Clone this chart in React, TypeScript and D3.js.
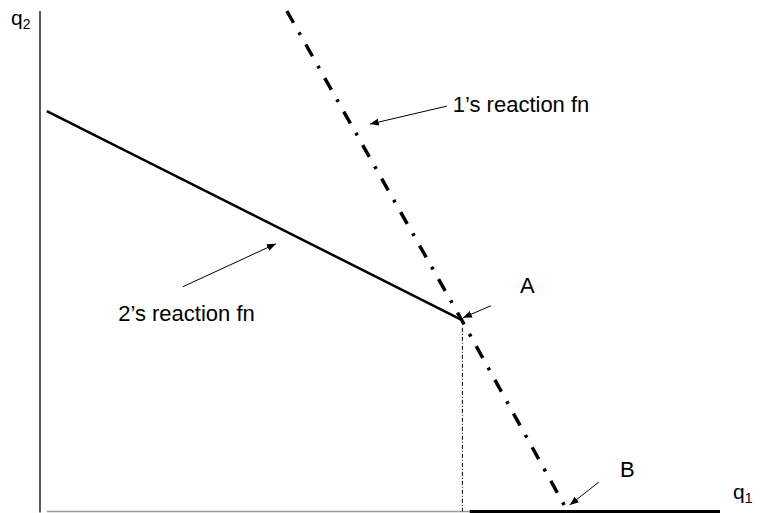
import React from "react";
import * as d3 from "d3";

// Data (in q1/q2 units)
const reaction2Q1 = [1, 62];
const reaction2Q2 = [80, 38.3];
const reaction1Q1 = [36.3, 62, 77.2];
const reaction1Q2 = [100, 38.3, 1];
const bottomSegQ1 = [63.2, 100];
const bottomSegQ2 = [0, 0];
const axisQ1 = [1, 100];
const equilibriumQ1 = 62;
const equilibriumQ2 = 38.3;

const annotationLabels = ["1\u2019s reaction fn", "2\u2019s reaction fn", "A", "B"];
const annotationTextQ1 = [60.7, 11.5, 70.6, 85.3];
const annotationTextQ2 = [79.8, 38.1, 43.7, 6.9];
const arrowFromQ1 = [59.85, 21.0, 66.3, 82.2];
const arrowFromQ2 = [81.0, 44.9, 41.1, 5.9];
const arrowToQ1 = [48.5, 34.7, 62.2, 77.9];
const arrowToQ2 = [77.4, 53.5, 38.7, 1.3];

const W = 761;
const H = 513;

export default function App() {
  const x = d3.scaleLinear().domain([0, 100]).range([40, 720]);
  const y = d3.scaleLinear().domain([0, 100]).range([511.5, 11]);
  const line = d3
    .line<[number, number]>()
    .x((d) => x(d[0]))
    .y((d) => y(d[1]));

  const r2 = reaction2Q1.map((v, i) => [v, reaction2Q2[i]] as [number, number]);
  const r1 = reaction1Q1.map((v, i) => [v, reaction1Q2[i]] as [number, number]);
  const bottom = bottomSegQ1.map((v, i) => [v, bottomSegQ2[i]] as [number, number]);
  const font = "Liberation Sans, Arial, sans-serif";

  return (
    <svg
      width={W}
      height={H}
      style={{ position: "absolute", left: 0, top: 0, background: "#fff" }}
      fontFamily={font}
    >
      <defs>
        <marker
          id="ah"
          markerUnits="userSpaceOnUse"
          markerWidth={10}
          markerHeight={8}
          refX={9}
          refY={4}
          orient="auto"
        >
          <path d="M0,0.5 L9,4 L0,7.5 Z" fill="#000" />
        </marker>
      </defs>

      {/* horizontal axis (grey) */}
      <line
        x1={x(axisQ1[0])}
        x2={x(axisQ1[1])}
        y1={y(0)}
        y2={y(0)}
        stroke="#999"
        strokeWidth={1.6}
      />
      {/* vertical axis */}
      <line x1={x(0)} x2={x(0)} y1={y(100)} y2={y(0) + 1} stroke="#000" strokeWidth={1.3} />

      {/* dotted drop line */}
      <line
        x1={x(equilibriumQ1) + 0.8}
        x2={x(equilibriumQ1) + 0.8}
        y1={y(equilibriumQ2) + 8}
        y2={y(0)}
        stroke="#000"
        strokeWidth={1}
        strokeDasharray="4 2 1 2"
      />

      {/* 2's reaction fn */}
      <path d={line(r2) || ""} fill="none" stroke="#000" strokeWidth={2.5} />
      {/* 1's reaction fn */}
      <path
        d={line(r1) || ""}
        fill="none"
        stroke="#000"
        strokeWidth={3.5}
        strokeDasharray="13.5 11 3 11"
      />
      {/* bottom segment of 2's reaction fn */}
      <path d={line(bottom) || ""} fill="none" stroke="#000" strokeWidth={3} />

      {/* arrows */}
      {arrowFromQ1.map((v, i) => (
        <line
          key={"a" + i}
          x1={x(v)}
          y1={y(arrowFromQ2[i])}
          x2={x(arrowToQ1[i])}
          y2={y(arrowToQ2[i])}
          stroke="#000"
          strokeWidth={1}
          markerEnd="url(#ah)"
        />
      ))}

      {/* annotation texts */}
      {annotationLabels.map((t, i) => (
        <text
          key={"t" + i}
          x={x(annotationTextQ1[i])}
          y={y(annotationTextQ2[i])}
          fontSize={22}
          fill="#000"
        >
          {t}
        </text>
      ))}

      {/* axis labels */}
      <text x={11} y={25} fontSize={21} fill="#000">
        q<tspan fontSize={14} dy={4}>2</tspan>
      </text>
      <text x={733} y={499} fontSize={21} fill="#000">
        q<tspan fontSize={14} dy={4}>1</tspan>
      </text>
    </svg>
  );
}
